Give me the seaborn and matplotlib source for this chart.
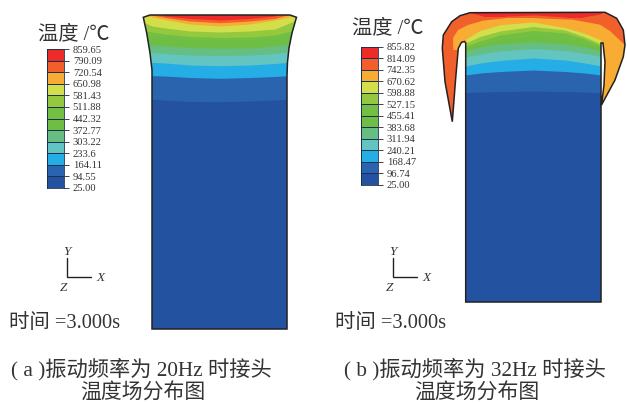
import matplotlib
matplotlib.use('Agg')
import matplotlib.pyplot as plt
import numpy as np
import seaborn as sns
from matplotlib.colors import BoundaryNorm, ListedColormap
from matplotlib.patches import Polygon

# colour bands, coolest first
band_colors = ['#2353A0', '#2B64AE', '#25AEE5', '#62C5C2', '#66BE82', '#6EBE45',
               '#72BF44', '#94C83F', '#D3DE4B', '#F8AC33', '#F15F2A', '#EE2A2A']

levels_a = [25.00, 94.55, 164.11, 233.6, 303.22, 372.77, 442.32, 511.88, 581.43, 650.98, 720.54, 790.09, 859.65]
levels_b = [25.00, 96.74, 168.47, 240.21, 311.94, 383.68, 455.41, 527.15, 598.88, 670.62, 742.35, 814.09, 855.82]
labels_a = ['25.00', '94.55', '164.11', '233.6', '303.22', '372.77', '442.32', '511.88', '581.43', '650.98', '720.54', '790.09', '859.65']
labels_b = ['25.00', '96.74', '168.47', '240.21', '311.94', '383.68', '455.41', '527.15', '598.88', '670.62', '742.35', '814.09', '855.82']

# panel a: outline of the joint and band boundaries
outline_a = [(152, 329), (152, 70), (150, 53), (146.7, 33), (143.3, 17.3), (150, 15), (290, 15), (296.5, 17.3),
             (292, 33), (289, 48), (287.5, 62), (287, 75), (287, 329)]
x_a = [143, 152, 165, 190, 220, 250, 275, 287, 297]
red_a = [10, 10, 16, 18.5, 20, 18.5, 16, 10, 10]
orangered_a = [13, 15, 17.5, 21, 22.7, 21, 18.5, 15, 13]
orange_a = [15, 17, 19.5, 24, 26, 24, 20, 17.5, 15]
yellow_a = [22, 26, 28, 31, 32, 31, 29, 24, 20]
lightgreen_a = [31, 32, 34, 36.5, 37.5, 37, 35, 32, 31]
green1_a = [36, 36, 37.5, 40, 41, 40, 38, 36, 36]
green2_a = [45, 45, 46, 47.5, 48.3, 48, 46, 44.5, 44]
greenteal_a = [52.7, 52.7, 53.5, 55, 55.7, 55, 53.5, 52, 52]
teal_a = [62.3, 62.3, 63, 65, 65.7, 65, 63.5, 62.5, 62.3]
blue_a = [75.7, 75.7, 76, 77.5, 78.3, 77.5, 76.5, 75.7, 75.7]
navy_a = [99, 99, 100, 101.5, 101.7, 101, 100, 99, 99]

# panel b: the flash curls down on both sides
outline_b = [(465.7, 302), (465.7, 43), (464.5, 41.5), (461.5, 42.3), (458.3, 48.3), (455.7, 78), (452.3, 121.7),
             (445, 81.7), (442.3, 48), (443.3, 35), (451.7, 21.7), (460, 15.7), (470, 12.7), (605, 12.3),
             (616.7, 18.3), (623.3, 30), (625, 45), (623.3, 56.7), (615, 80), (601.5, 105), (604, 85), (605, 62),
             (603, 43), (601, 43), (601, 302)]
orange_region_b = [(453.3, 50), (453, 38), (458, 30), (468, 25), (483, 20.7), (507, 18), (533, 18), (553, 19),
                   (573, 19.7), (600, 24.7), (610, 31), (627, 47), (627, 108), (601, 108), (601, 44), (470, 44),
                   (464, 41), (458, 50)]
x_red_b = [466, 472, 483, 507, 535, 566, 583, 600, 606]
red_b = [10, 13, 16, 16, 15, 17, 17, 14, 10]
x_b = [465.7, 480, 500, 533, 565, 585, 601]
orange_b = [39, 30.5, 24.7, 22, 27.5, 33.5, 40]
yellow_b = [43, 36.5, 31, 26.5, 30, 37, 44]
lightgreen_b = [46, 41, 35, 30.5, 33, 39, 46]
green1_b = [48, 44, 40, 36, 38.5, 43, 48]
green2_b = [51, 47, 44, 41.7, 44, 47, 51]
greenteal_b = [57, 54, 51, 48.5, 50.5, 53.5, 56.5]
teal_b = [66, 63, 60.5, 58, 60, 63, 66]
blue_b = [75, 73, 71.5, 70, 71.5, 73, 75]
navy_b = [92.5, 92, 91.5, 91, 91.5, 92, 93]

sns.set_theme(style='white')
plt.rcParams['font.family'] = ['Liberation Serif', 'Noto Sans CJK SC']

W, H = 627, 404
TEXT = '#333333'
EDGE = '#222222'

fig = plt.figure(figsize=(W / 100, H / 100), dpi=100)
ax = fig.add_axes([0, 0, 1, 1])
ax.set_xlim(0, W)
ax.set_ylim(H, 0)
ax.axis('off')


def add_outline(points, base_color):
    patch = Polygon(points, closed=True, facecolor=base_color, edgecolor='none', zorder=1)
    ax.add_patch(patch)
    return patch


def add_band(xs, boundary, color, clip, bottom=H):
    art = ax.fill_between(xs, boundary, bottom, color=color, linewidth=0, zorder=2)
    art.set_clip_path(clip)


# panel a, hottest first and each cooler band over it
clip_a = add_outline(outline_a, band_colors[11])
bounds_a = [red_a, orangered_a, orange_a, yellow_a, lightgreen_a, green1_a, green2_a, greenteal_a, teal_a, blue_a, navy_a]
for i, boundary in enumerate(bounds_a):
    add_band(x_a, boundary, band_colors[10 - i], clip_a)
ax.add_patch(Polygon(outline_a, closed=True, fill=False, edgecolor=EDGE, linewidth=1.1, zorder=3))

# panel b
clip_b = add_outline(outline_b, band_colors[10])
orange_patch = Polygon(orange_region_b, closed=True, facecolor=band_colors[9], edgecolor='none', zorder=2)
ax.add_patch(orange_patch)
orange_patch.set_clip_path(clip_b)
red_art = ax.fill_between(x_red_b, 0, red_b, color=band_colors[11], linewidth=0, zorder=2)
red_art.set_clip_path(clip_b)
bounds_b = [orange_b, yellow_b, lightgreen_b, green1_b, green2_b, greenteal_b, teal_b, blue_b, navy_b]
for i, boundary in enumerate(bounds_b):
    add_band(x_b, boundary, band_colors[8 - i], clip_b, bottom=302)
ax.add_patch(Polygon(outline_b, closed=True, fill=False, edgecolor=EDGE, linewidth=1.1, zorder=3))


def add_colorbar(levels, labels, left, top, right, bottom):
    cax = fig.add_axes([left / W, 1 - bottom / H, (right - left) / W, (bottom - top) / H])
    mids = (np.array(levels[:-1]) + np.array(levels[1:])) / 2
    sns.heatmap(mids[::-1].reshape(-1, 1), ax=cax, cbar=False, cmap=ListedColormap(band_colors),
                norm=BoundaryNorm(levels, 12), linewidths=0.5, linecolor='#1c3050',
                xticklabels=False, yticklabels=False)
    cax.yaxis.tick_right()
    cax.set_yticks(np.arange(13), labels=labels[::-1], rotation=0, fontsize=7.6, color=TEXT)
    cax.tick_params(axis='y', length=3.8, width=0.7, color='#444444', pad=2.5, right=True, left=False)
    cax.tick_params(axis='x', length=0)
    for spine in cax.spines.values():
        spine.set_visible(True)
        spine.set_color('#1c3050')
        spine.set_linewidth(0.6)


add_colorbar(levels_a, labels_a, 46.7, 49.3, 64, 187.7)
add_colorbar(levels_b, labels_b, 360.7, 46.7, 378, 185)


def add_triad(cx):
    ax.plot([cx, cx, cx + 24], [258, 277, 277], color='#222222', lw=1.0, solid_joinstyle='miter')
    ax.text(cx, 252, 'Y', style='italic', fontsize=9.5, color=TEXT, ha='center', va='center')
    ax.text(cx + 33, 278, 'X', style='italic', fontsize=9.5, color=TEXT, ha='center', va='center')
    ax.text(cx - 3, 288, 'Z', style='italic', fontsize=9.5, color=TEXT, ha='center', va='center')


add_triad(67)
add_triad(393)

ax.text(38, 34.5, '温度 /℃', fontsize=14.6, color=TEXT, ha='left', va='center')
ax.text(352, 28.5, '温度 /℃', fontsize=14.6, color=TEXT, ha='left', va='center')
ax.text(9, 324, '时间 =3.000s', fontsize=14.7, color=TEXT, ha='left', va='center')
ax.text(335, 324, '时间 =3.000s', fontsize=14.7, color=TEXT, ha='left', va='center')

ax.text(141, 369, '( a )振动频率为 20Hz 时接头', fontsize=15.3, color=TEXT, ha='center', va='center')
ax.text(143, 393.5, '温度场分布图', fontsize=15, color=TEXT, ha='center', va='center')
ax.text(475, 369, '( b )振动频率为 32Hz 时接头', fontsize=15.3, color=TEXT, ha='center', va='center')
ax.text(477, 393.5, '温度场分布图', fontsize=15, color=TEXT, ha='center', va='center')

fig.savefig('out.png', dpi=100)
